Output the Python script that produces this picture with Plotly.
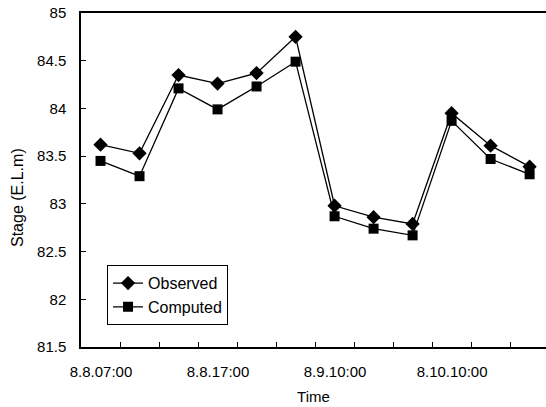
import plotly.graph_objects as go

x_index = list(range(1, 13))
tick_boundaries = [i + 0.5 for i in range(0, 12)]
tick_labels = ["8.8.07:00", "", "", "8.8.17:00", "", "", "8.9.10:00", "", "", "8.10.10:00", "", ""]

observed = [83.62, 83.53, 84.35, 84.26, 84.37, 84.75, 82.98, 82.86, 82.79, 83.95, 83.61, 83.39]
computed = [83.45, 83.29, 84.21, 83.99, 84.23, 84.49, 82.87, 82.74, 82.67, 83.87, 83.47, 83.31]

FONT = "Liberation Sans, Arial, sans-serif"
W, H = 546, 407
ML, MR = 81, 0
X_RANGE = [0.5, 12.42]
cat_px = (W - ML - MR) / (X_RANGE[1] - X_RANGE[0])

fig = go.Figure()
fig.add_trace(go.Scatter(
    x=x_index, y=observed, name="Observed", mode="lines+markers",
    line=dict(color="black", width=1.3),
    marker=dict(symbol="diamond", size=11, color="black"),
))
fig.add_trace(go.Scatter(
    x=x_index, y=computed, name="Computed", mode="lines+markers",
    line=dict(color="black", width=1.3),
    marker=dict(symbol="square", size=10, color="black"),
))

fig.update_layout(
    template="none",
    width=W, height=H,
    margin=dict(l=ML, r=MR, t=13, b=60, autoexpand=False),
    paper_bgcolor="white", plot_bgcolor="white",
    font=dict(family=FONT, size=15, color="black"),
    showlegend=True,
    legend=dict(
        x=0.056, y=0.245, xanchor="left", yanchor="top",
        bgcolor="white", bordercolor="black", borderwidth=1,
        font=dict(family=FONT, size=16, color="black"),
        tracegroupgap=0, itemsizing="trace",
    ),
    xaxis=dict(
        range=X_RANGE,
        tickmode="array", tickvals=tick_boundaries, ticktext=tick_labels,
        ticklabelshift=int(round(cat_px / 2)),
        ticks="inside", ticklen=5, tickcolor="black", tickwidth=1,
        showgrid=False, zeroline=False,
        showline=True, linecolor="black", linewidth=1.5, mirror=True,
        ticklabelstandoff=10, automargin=False,
        title=dict(text="Time", font=dict(family=FONT, size=15), standoff=13),
    ),
    yaxis=dict(
        range=[81.5, 85], tickmode="linear", tick0=81.5, dtick=0.5,
        ticks="inside", ticklen=5, tickcolor="black",
        showgrid=False, zeroline=False, mirror=False,
        showline=True, linecolor="black", linewidth=1.5,
        ticklabelstandoff=10, automargin=False,
    ),
    annotations=[dict(text="Stage (E.L.m)", textangle=-90, xref="paper", yref="paper",
                      x=-0.137, y=0.447, xanchor="center", yanchor="middle",
                      showarrow=False, font=dict(family=FONT, size=16, color="black"))],
)

fig.write_html("out.html")
